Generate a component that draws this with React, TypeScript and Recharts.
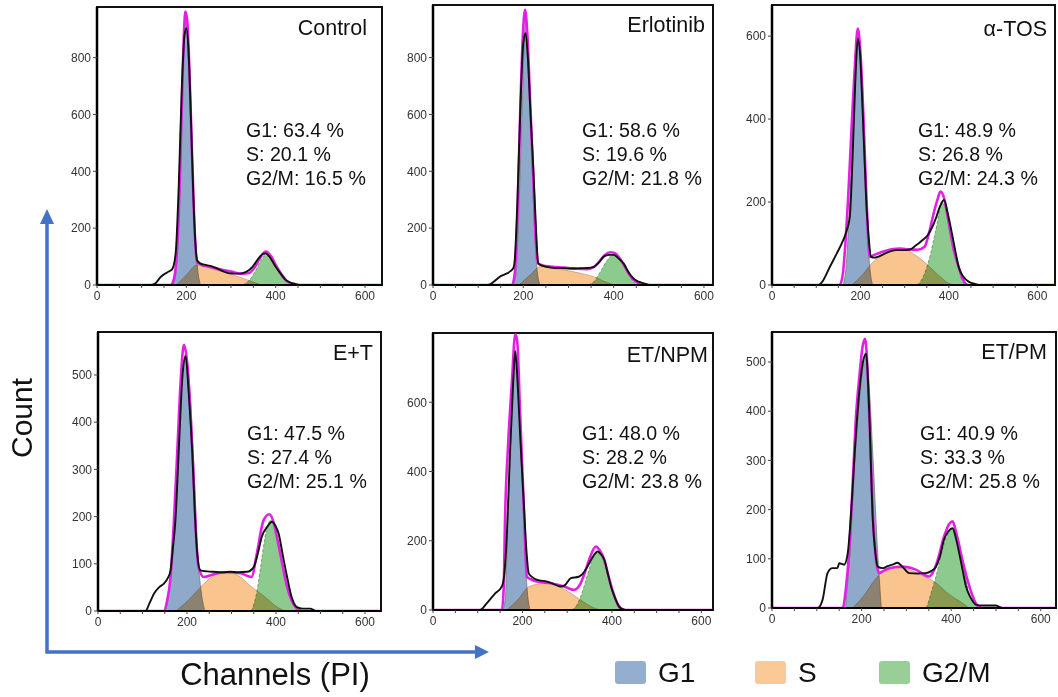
import React from 'react';
import { ComposedChart, Area, Line, XAxis, YAxis, ReferenceArea } from 'recharts';

type Pt = [number, number];

// panel labels and fitted percentages
const PANEL_NAMES = ['Control', 'Erlotinib', 'α-TOS', 'E+T', 'ET/NPM', 'ET/PM'];
const G1_PCT = ['63.4', '58.6', '48.9', '47.5', '48.0', '40.9'];
const S_PCT = ['20.1', '19.6', '26.8', '27.4', '28.2', '33.3'];
const G2M_PCT = ['16.5', '21.8', '24.3', '25.1', '23.8', '25.8'];

const X_TICKS = [0, 50, 100, 150, 200, 250, 300, 350, 400, 450, 500, 550, 600];
const X_LABELS = [0, 200, 400, 600];
const Y_TICKS = [
  [0, 200, 400, 600, 800],
  [0, 200, 400, 600, 800],
  [0, 200, 400, 600],
  [0, 100, 200, 300, 400, 500],
  [0, 200, 400, 600],
  [0, 100, 200, 300, 400, 500],
];

// measured histogram (black)
const HIST: Pt[][] = [
  [[0,0],[120,0],[130,5],[143,29],[158,45],[168,55],[176,110],[183,350],[190,700],[196,880],[200,903],[205,820],[211,550],[216,299],[221,130],[224,88],[231,76],[245,70],[260,64],[280,50],[297,41],[315,40],[326,42],[338,50],[348,64],[360,90],[372,110],[378,111],[386,100],[400,64],[411,40],[422,18],[433,8],[444,4],[455,0],[640,0]],
  [[0,0],[122,0],[135,12],[148,29],[160,38],[170,47],[178,60],[181,88],[187,300],[194,650],[200,850],[205,886],[210,800],[216,600],[222,416],[228,200],[233,76],[242,68],[252,64],[270,60],[289,59],[310,58],[326,59],[342,60],[356,64],[368,80],[378,100],[390,106],[400,106],[410,95],[422,76],[433,45],[444,23],[455,12],[467,6],[480,0],[640,0]],
  [[0,0],[105,0],[115,10],[131,44],[146,75],[161,108],[170,135],[176,165],[182,300],[188,480],[194,594],[199,560],[205,420],[213,205],[219,110],[224,68],[232,66],[239,68],[260,78],[280,84],[295,84],[310,85],[325,95],[340,108],[352,120],[363,141],[372,165],[380,190],[389,205],[398,170],[407,124],[415,80],[422,44],[433,20],[445,8],[458,3],[470,0],[640,0]],
  [[0,0],[107,0],[115,15],[126,37],[137,50],[148,58],[157,70],[163,86],[168,130],[174,192],[182,350],[190,500],[197,539],[204,460],[212,334],[218,200],[223,122],[230,86],[245,84],[260,83],[280,82],[297,83],[315,82],[335,83],[350,93],[360,125],[368,157],[380,178],[391,189],[399,180],[406,164],[415,120],[425,72],[435,30],[447,8],[460,5],[477,5],[490,0],[640,0]],
  [[0,0],[105,0],[120,19],[139,48],[154,68],[160,110],[165,212],[172,450],[179,650],[184,748],[189,660],[195,500],[203,309],[209,170],[214,106],[222,95],[233,87],[255,82],[270,75],[285,68],[295,72],[308,92],[326,96],[335,105],[345,125],[358,155],[368,169],[376,160],[383,145],[390,110],[398,68],[407,35],[416,10],[430,0],[640,0]],
  [[0,0],[102,0],[113,17],[124,71],[135,81],[146,81],[150,91],[161,88],[169,111],[177,200],[185,320],[195,440],[203,500],[210,517],[217,400],[225,179],[231,110],[236,84],[247,81],[258,85],[269,88],[280,92],[290,85],[306,71],[325,70],[343,71],[355,75],[366,84],[375,105],[384,139],[393,155],[403,162],[411,140],[418,111],[426,75],[433,44],[444,20],[455,7],[470,5],[500,5],[508,2],[515,0],[640,0]],
];

// model fit (magenta)
const FIT: Pt[][] = [
  [[0,0],[165,0],[172,20],[180,150],[186,400],[191,700],[195,900],[198,962],[202,930],[207,750],[213,450],[219,180],[224,80],[232,72],[250,65],[275,55],[300,47],[325,40],[340,42],[352,60],[365,95],[378,118],[390,100],[402,65],[414,35],[425,14],[438,4],[450,0],[640,0]],
  [[0,0],[175,0],[181,40],[187,250],[193,600],[199,880],[204,968],[209,880],[215,650],[222,380],[228,150],[233,76],[245,68],[260,65],[280,62],[300,60],[320,57],[340,56],[355,62],[368,82],[380,105],[393,115],[403,112],[415,90],[428,55],[440,25],[452,8],[465,0],[640,0]],
  [[0,0],[153,0],[160,25],[166,100],[172,205],[180,380],[187,520],[194,618],[200,560],[207,400],[214,200],[221,68],[230,72],[250,80],[270,86],[290,88],[310,86],[330,85],[345,92],[355,125],[365,170],[374,205],[381,225],[389,210],[398,160],[411,85],[422,44],[430,18],[437,4],[445,0],[640,0]],
  [[0,0],[148,0],[155,20],[163,72],[170,180],[178,334],[186,490],[193,564],[200,530],[208,420],[215,280],[221,150],[226,93],[238,72],[260,78],[290,82],[320,80],[345,72],[357,122],[372,192],[385,205],[394,190],[402,157],[414,100],[425,51],[436,20],[447,5],[458,0],[640,0]],
  [[0,0],[154,0],[158,60],[161,260],[168,480],[176,650],[184,796],[188,780],[195,560],[203,300],[210,96],[220,88],[233,82],[263,77],[293,68],[315,58],[330,77],[340,110],[349,145],[364,183],[374,170],[383,145],[392,100],[401,58],[410,25],[420,5],[430,0],[640,0]],
  [[0,0],[158,0],[165,40],[172,111],[180,250],[187,382],[195,470],[202,530],[208,547],[214,470],[220,320],[225,193],[231,110],[239,71],[250,76],[262,81],[291,84],[321,78],[351,64],[362,78],[370,98],[384,145],[395,170],[403,176],[412,150],[425,98],[437,55],[448,24],[456,8],[462,3],[470,0],[640,0]],
];

// fitted components
const G1: Pt[][] = [
  [[168,0],[175,25],[185,300],[191,650],[199,940],[208,650],[216,300],[225,60],[232,0]],
  [[178,0],[184,40],[191,300],[198,650],[205,930],[215,650],[222,300],[230,60],[237,0]],
  [[161,0],[168,50],[176,205],[186,446],[196,590],[206,446],[213,205],[221,44],[228,0]],
  [[152,0],[167,122],[178,334],[187,475],[197,545],[206,475],[214,334],[224,122],[232,40],[240,0]],
  [[156,0],[162,40],[167,260],[176,550],[184,730],[195,550],[203,260],[210,68],[217,0]],
  [[164,0],[174,111],[186,314],[198,449],[208,515],[217,449],[225,314],[236,111],[244,0]],
];
const S: Pt[][] = [
  [[178,0],[200,35],[224,70],[260,55],[300,38],[337,18],[367,0]],
  [[190,0],[215,35],[238,65],[270,57],[300,50],[330,40],[356,29],[380,12],[400,0]],
  [[180,0],[205,25],[228,55],[255,75],[280,85],[295,88],[320,75],[348,52],[375,25],[400,4],[410,0]],
  [[175,0],[200,20],[230,50],[260,75],[290,82],[320,72],[340,55],[375,30],[400,10],[420,0]],
  [[165,0],[190,30],[212,65],[235,75],[255,78],[280,68],[300,55],[320,38],[340,20],[360,6],[375,0]],
  [[180,0],[205,25],[232,60],[255,78],[277,82],[300,80],[330,68],[366,51],[395,28],[425,10],[440,0]],
];
const G2M: Pt[][] = [
  [[326,0],[340,15],[355,50],[368,90],[378,105],[390,90],[405,50],[420,18],[437,0]],
  [[344,0],[358,15],[370,45],[385,85],[400,108],[412,92],[425,60],[438,25],[450,0]],
  [[329,0],[342,20],[355,60],[370,130],[385,200],[395,175],[407,124],[418,65],[430,10],[440,0]],
  [[345,0],[357,40],[368,110],[378,170],[388,192],[398,180],[408,140],[418,86],[430,35],[445,5],[455,0]],
  [[311,0],[322,15],[332,45],[345,100],[358,150],[368,165],[380,145],[392,95],[405,40],[415,12],[425,0]],
  [[345,0],[355,30],[366,64],[384,130],[395,155],[403,162],[412,150],[425,100],[440,30],[452,8],[462,0]],
];

// plot frame placement on the page
const LAYOUT = [
  { l: 97, t: 7, w: 285, h: 278, xMax: 638, yMax: 978, titleX: 367, titleY: 28, statX: 246, statY: 130 },
  { l: 433, t: 5, w: 280, h: 280, xMax: 620, yMax: 985, titleX: 705, titleY: 25, statX: 582, statY: 130 },
  { l: 772, t: 5, w: 283, h: 280, xMax: 640, yMax: 675, titleX: 1047, titleY: 29, statX: 918, statY: 130 },
  { l: 98, t: 332, w: 283, h: 279, xMax: 636, yMax: 591, titleX: 373, titleY: 353, statX: 247, statY: 433 },
  { l: 433, t: 333, w: 280, h: 277, xMax: 626, yMax: 800, titleX: 708, titleY: 355, statX: 582, statY: 433 },
  { l: 772, t: 332, w: 284, h: 276, xMax: 634, yMax: 561, titleX: 1047, titleY: 352, statX: 920, statY: 433 },
];

const FONT = '"Liberation Sans", Arial, Helvetica, sans-serif';
const YW = 40;
const XH = 24;
const PAD = 3;

const rows = (pts: Pt[]) => pts.map(([x, y]) => ({ x, y }));

function Panel({ i }: { i: number }) {
  const L = LAYOUT[i];
  const tick = { fontSize: 12, fill: '#333', fontFamily: FONT };
  return (
    <div style={{ position: 'absolute', left: L.l - YW, top: L.t - PAD }}>
      <ComposedChart
        width={YW + L.w + PAD}
        height={PAD + L.h + XH}
        margin={{ top: PAD, right: PAD, left: 0, bottom: 0 }}
      >
        <XAxis
          type="number"
          dataKey="x"
          domain={[0, L.xMax]}
          allowDataOverflow
          ticks={X_TICKS}
          interval={0}
          tickFormatter={(v: number) => (X_LABELS.includes(v) ? String(v) : '')}
          tickSize={3}
          tickMargin={3}
          height={XH}
          tick={tick}
          axisLine={{ stroke: '#000', strokeWidth: 2 }}
          tickLine={{ stroke: '#444' }}
        />
        <YAxis
          type="number"
          dataKey="y"
          domain={[0, L.yMax]}
          allowDataOverflow
          ticks={Y_TICKS[i]}
          interval={0}
          width={YW}
          tickSize={4}
          tickMargin={2}
          tick={tick}
          axisLine={{ stroke: '#000', strokeWidth: 2.5 }}
          tickLine={{ stroke: '#444' }}
        />
        <Area data={rows(G1[i])} dataKey="y" type="monotone" fill="#8fa9cb" fillOpacity={1} stroke="#6d6d6d" strokeWidth={0.7} isAnimationActive={false} />
        <Area data={rows(S[i])} dataKey="y" type="monotone" fill="#f9c48e" fillOpacity={1} stroke="#b08a6a" strokeWidth={0.6} isAnimationActive={false} />
        <Area data={rows(G2M[i])} dataKey="y" type="monotone" fill="#8dca8d" fillOpacity={1} stroke="#5d7d5d" strokeWidth={0.7} strokeDasharray="3 2" isAnimationActive={false} />
        <Line data={rows(FIT[i])} dataKey="y" type="monotone" stroke="#e41fe4" strokeWidth={2.6} dot={false} isAnimationActive={false} />
        <Line data={rows(HIST[i])} dataKey="y" type="monotone" stroke="#111" strokeWidth={1.9} dot={false} isAnimationActive={false} />
        <ReferenceArea x1={0} x2={L.xMax} y1={0} y2={L.yMax} fill="none" stroke="#111" strokeWidth={2} ifOverflow="visible" />
      </ComposedChart>
    </div>
  );
}

function Labels({ i }: { i: number }) {
  const L = LAYOUT[i];
  return (
    <>
      <div style={{ position: 'absolute', left: L.titleX - 200, top: L.titleY - 13, width: 200, textAlign: 'right', fontSize: 21.5, lineHeight: '26px', color: '#111', whiteSpace: 'nowrap' }}>
        {PANEL_NAMES[i]}
      </div>
      <div style={{ position: 'absolute', left: L.statX, top: L.statY - 12, fontSize: 19.6, lineHeight: '24px', color: '#111', whiteSpace: 'nowrap' }}>
        <div>G1: {G1_PCT[i]} %</div>
        <div>S: {S_PCT[i]} %</div>
        <div>G2/M: {G2M_PCT[i]} %</div>
      </div>
    </>
  );
}

const LEGEND = [
  { label: 'G1', color: '#93aecf', x: 615 },
  { label: 'S', color: '#fbc996', x: 755 },
  { label: 'G2/M', color: '#97cf97', x: 879 },
];

export default function App() {
  return (
    <div style={{ position: 'absolute', left: 0, top: 0, width: 1058, height: 697, background: '#fff', fontFamily: FONT, overflow: 'hidden' }}>
      <style>{`.recharts-area, .recharts-area-area { mix-blend-mode: multiply; }`}</style>
      <svg width={1058} height={697} style={{ position: 'absolute', left: 0, top: 0 }}>
        <polyline points="47,224 47,652 476,652" fill="none" stroke="#4472c4" strokeWidth={3.5} />
        <polygon points="40,224 54,224 47,209" fill="#4472c4" />
        <polygon points="475,645 475,659 489,652" fill="#4472c4" />
      </svg>
      {LAYOUT.map((_, i) => (
        <Panel key={i} i={i} />
      ))}
      {LAYOUT.map((_, i) => (
        <Labels key={'l' + i} i={i} />
      ))}
      <div style={{ position: 'absolute', left: 22 - 60, top: 418 - 18, width: 120, height: 36, lineHeight: '36px', textAlign: 'center', fontSize: 30, transform: 'rotate(-90deg)', color: '#111' }}>
        Count
      </div>
      <div style={{ position: 'absolute', left: 175, top: 675 - 18, width: 200, lineHeight: '36px', textAlign: 'center', fontSize: 31, color: '#111', whiteSpace: 'nowrap' }}>
        Channels (PI)
      </div>
      {LEGEND.map((d) => (
        <React.Fragment key={d.label}>
          <div style={{ position: 'absolute', left: d.x, top: 661, width: 31, height: 23, borderRadius: 3, background: d.color }} />
          <div style={{ position: 'absolute', left: d.x + 43, top: 673 - 17, lineHeight: '34px', fontSize: 28, color: '#111', whiteSpace: 'nowrap' }}>
            {d.label}
          </div>
        </React.Fragment>
      ))}
    </div>
  );
}
